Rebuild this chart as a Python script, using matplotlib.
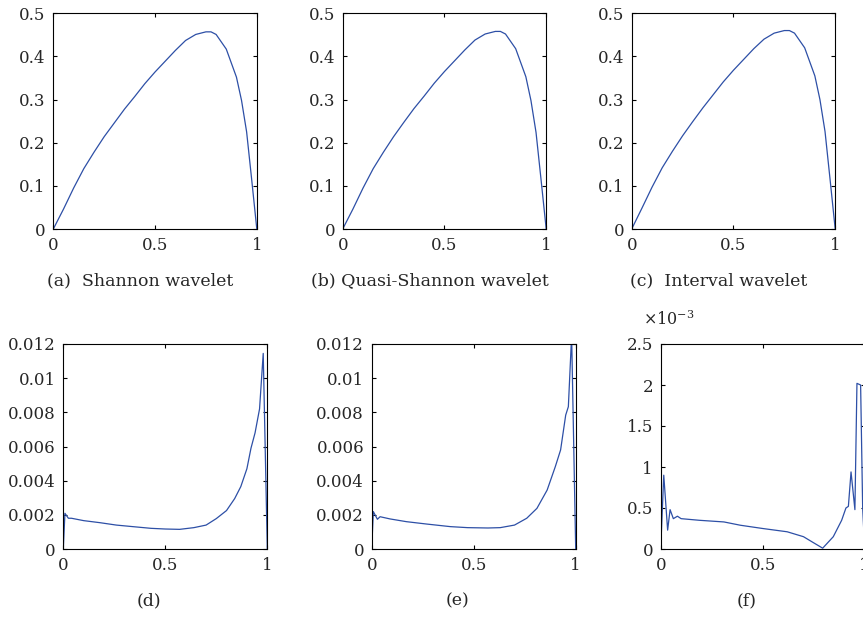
"""Wavelet solution and error panels (a)-(f)."""

import matplotlib.pyplot as plt
from matplotlib.ticker import FuncFormatter

# top row: solution curves
x_top = [0, 0.05, 0.1, 0.15, 0.2, 0.25, 0.3, 0.35, 0.4, 0.45, 0.5, 0.55,
         0.6, 0.65, 0.7, 0.75, 0.775, 0.8, 0.85, 0.9, 0.925, 0.95, 0.975, 1.0]
shannon = [0, 0.046, 0.095, 0.140, 0.178, 0.214, 0.246, 0.278, 0.307, 0.337,
           0.364, 0.389, 0.414, 0.437, 0.451, 0.457, 0.457, 0.451, 0.417,
           0.352, 0.298, 0.225, 0.114, 0]
quasi_shannon = [0, 0.046, 0.095, 0.140, 0.178, 0.214, 0.247, 0.279, 0.308,
                 0.338, 0.365, 0.390, 0.415, 0.438, 0.452, 0.458, 0.458,
                 0.452, 0.418, 0.353, 0.298, 0.224, 0.113, 0]
interval = [0, 0.048, 0.097, 0.142, 0.180, 0.216, 0.249, 0.281, 0.311, 0.341,
            0.368, 0.393, 0.418, 0.440, 0.454, 0.460, 0.460, 0.454, 0.420,
            0.355, 0.300, 0.226, 0.114, 0]

# bottom row: errors
x_d = [0, 0.008, 0.025, 0.04, 0.1, 0.18, 0.26, 0.34, 0.43, 0.5, 0.57, 0.64,
       0.7, 0.75, 0.8, 0.84, 0.87, 0.9, 0.92, 0.94, 0.962, 0.98, 1.0]
err_d = [0, 0.00209, 0.0018, 0.0018, 0.00166, 0.00154, 0.0014, 0.00131,
         0.00121, 0.00117, 0.00115, 0.00125, 0.0014, 0.00178, 0.00225,
         0.00295, 0.00365, 0.0047, 0.0059, 0.0068, 0.0082, 0.01145, 0]

x_e = [0, 0.008, 0.028, 0.041, 0.09, 0.17, 0.27, 0.385, 0.47, 0.57, 0.63,
       0.7, 0.76, 0.81, 0.86, 0.9, 0.926, 0.951, 0.964, 0.98, 1.0]
err_e = [0, 0.00219, 0.00174, 0.00189, 0.00176, 0.0016, 0.00146, 0.00131,
         0.00125, 0.00123, 0.00125, 0.0014, 0.0018, 0.00238, 0.00345,
         0.00482, 0.0058, 0.00784, 0.00833, 0.0125, 0]

# panel (f) values in units of 1e-3
x_f = [0, 0.015, 0.034, 0.046, 0.062, 0.082, 0.10, 0.19, 0.31, 0.39, 0.5,
       0.62, 0.70, 0.74, 0.794, 0.846, 0.887, 0.908, 0.92, 0.933, 0.952,
       0.962, 0.98, 0.99, 1.0]
err_f_milli = [0, 0.90, 0.23, 0.48, 0.37, 0.40, 0.37, 0.35, 0.33, 0.29, 0.25,
               0.21, 0.15, 0.09, 0.01, 0.15, 0.35, 0.50, 0.52, 0.94, 0.48,
               2.02, 2.0, 0.5, 0.0]

captions_top = ["(a)  Shannon wavelet", "(b) Quasi-Shannon wavelet",
                "(c)  Interval wavelet"]
captions_bottom = ["(d)", "(e)", "(f)"]

yticks_top = [0, 0.1, 0.2, 0.3, 0.4, 0.5]
yticks_err = [0, 0.002, 0.004, 0.006, 0.008, 0.01, 0.012]
yticks_f = [0, 0.5, 1, 1.5, 2, 2.5]

LINE = "#2d4fa6"
TEXT = "#262626"
W, H = 863, 619


def px_rect(left, top, right, bottom):
    return [left / W, 1 - bottom / H, (right - left) / W, (bottom - top) / H]


def style(ax, yticks, ymax):
    ax.set_xlim(0, 1)
    ax.set_ylim(0, ymax)
    ax.set_xticks([0, 0.5, 1])
    ax.set_yticks(yticks)
    fmt = FuncFormatter(lambda v, _: f"{v:g}")
    ax.xaxis.set_major_formatter(fmt)
    ax.yaxis.set_major_formatter(fmt)
    ax.tick_params(direction="in", length=3, width=0.8, top=True, right=True,
                   labelsize=12, labelcolor=TEXT, pad=5.5)
    for s in ax.spines.values():
        s.set_linewidth(0.8)


def main() -> None:
    plt.rcParams["font.family"] = ["DejaVu Serif"]
    plt.rcParams["mathtext.fontset"] = "dejavuserif"
    fig = plt.figure(figsize=(W / 100, H / 100), dpi=100)

    top_lefts = [53.3, 342.7, 631.7]
    for left, ys, cap in zip(top_lefts, [shannon, quasi_shannon, interval],
                             captions_top):
        ax = fig.add_axes(px_rect(left, 13.3, left + 203.5, 229))
        ax.plot(x_top, ys, color=LINE, lw=0.9)
        style(ax, yticks_top, 0.5)
        fig.text((left + 203.5 / 2 - 15) / W, 1 - 281 / H, cap,
                 ha="center", va="center", fontsize=12.5, color=TEXT)

    bottom_lefts = [63.3, 371.7, 660.7]
    data = [(x_d, err_d, yticks_err, 0.012), (x_e, err_e, yticks_err, 0.012),
            (x_f, err_f_milli, yticks_f, 2.5)]
    for left, (xs, ys, yt, ymax), cap in zip(bottom_lefts, data,
                                             captions_bottom):
        ax = fig.add_axes(px_rect(left, 344, left + 204, 549))
        ax.plot(xs, ys, color=LINE, lw=0.9)
        style(ax, yt, ymax)
        fig.text((left + 204 / 2 - 16) / W, 1 - 601 / H, cap,
                 ha="center", va="center", fontsize=12.5, color=TEXT)

    fig.text(643 / W, 1 - 320 / H, r"$\times10^{-3}$", ha="left",
             va="center", fontsize=11.5, color=TEXT)

    fig.savefig("out.png", dpi=100)


if __name__ == "__main__":
    main()
